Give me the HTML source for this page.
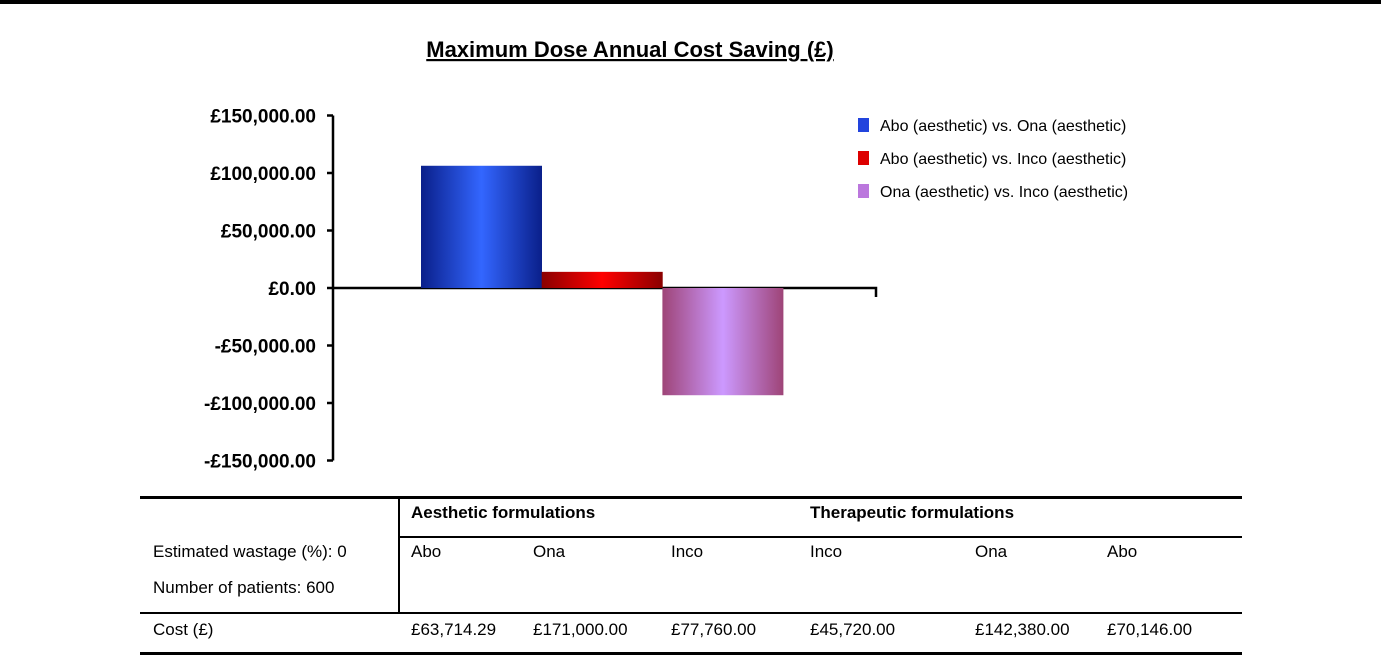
<!DOCTYPE html>
<html><head><meta charset="utf-8"><style>
body{margin:0;background:#fff;}
svg{display:block;font-family:"Liberation Sans",sans-serif;}
</style></head><body>
<svg id="chart" width="1381" height="657" viewBox="0 0 1381 657">
<defs>
<linearGradient id="gBlue" x1="0" x2="1"><stop offset="0" stop-color="#0a1f8a"/><stop offset="0.5" stop-color="#3366ff"/><stop offset="1" stop-color="#0a1f8a"/></linearGradient>
<linearGradient id="gRed" x1="0" x2="1"><stop offset="0" stop-color="#8a0000"/><stop offset="0.5" stop-color="#ff0000"/><stop offset="1" stop-color="#8a0000"/></linearGradient>
<linearGradient id="gPurple" x1="0" x2="1"><stop offset="0" stop-color="#9e4477"/><stop offset="0.5" stop-color="#cc99ff"/><stop offset="1" stop-color="#9e4477"/></linearGradient>
</defs>
<rect x="0" y="0" width="1381" height="4" fill="#000"/>
<text x="630" y="57" text-anchor="middle" font-size="22" font-weight="bold" text-decoration="underline">Maximum Dose Annual Cost Saving (£)</text>
<g id="axes"></g>
<g id="bars"></g>
<g id="legend"></g>
<g font-size="17" font-family="Liberation Sans, sans-serif">
<rect x="140" y="496" width="1102" height="3" fill="#000"/>
<rect x="398" y="497" width="2" height="116" fill="#000"/>
<rect x="399" y="536" width="843" height="2" fill="#000"/>
<rect x="140" y="612" width="1102" height="2" fill="#000"/>
<rect x="140" y="652" width="1102" height="3" fill="#000"/>
<text x="411" y="518" font-weight="bold">Aesthetic formulations</text>
<text x="810" y="518" font-weight="bold">Therapeutic formulations</text>
<text x="153" y="557">Estimated wastage (%): 0</text>
<text x="153" y="593">Number of patients: 600</text>
<text x="153" y="635">Cost (£)</text>
<text x="411" y="557">Abo</text><text x="533" y="557">Ona</text><text x="671" y="557">Inco</text>
<text x="810" y="557">Inco</text><text x="975" y="557">Ona</text><text x="1107" y="557">Abo</text>
<text x="411" y="635">£63,714.29</text><text x="533" y="635">£171,000.00</text><text x="671" y="635">£77,760.00</text>
<text x="810" y="635">£45,720.00</text><text x="975" y="635">£142,380.00</text><text x="1107" y="635">£70,146.00</text>
</g>
</svg>
<script>
const seriesNames = ["Abo (aesthetic) vs. Ona (aesthetic)", "Abo (aesthetic) vs. Inco (aesthetic)", "Ona (aesthetic) vs. Inco (aesthetic)"];
const seriesValues = [106286, 14046, -93240];
const tickValues = [150000, 100000, 50000, 0, -50000, -100000, -150000];
const tickLabels = ["£150,000.00", "£100,000.00", "£50,000.00", "£0.00", "-£50,000.00", "-£100,000.00", "-£150,000.00"];
const fills = ["url(#gBlue)", "url(#gRed)", "url(#gPurple)"];
const legendFills = ["#2244dd", "#dd0000", "#bb77dd"];
const NS = "http://www.w3.org/2000/svg";
const y = v => 288 - v * (172.5 / 150000);
const barX = i => 421 + i * 120.7;
function mk(tag, attrs, parent){const e=document.createElementNS(NS,tag);for(const k in attrs)e.setAttribute(k,attrs[k]);parent.appendChild(e);return e;}
const axes=document.getElementById('axes'), bars=document.getElementById('bars'), legend=document.getElementById('legend');
let a=mk('line',{x1:333,x2:333,y1:y(150000),y2:y(-150000),stroke:'#000','stroke-width':2.5},axes);


tickValues.forEach((v,i)=>{
  let t=mk('line',{x1:327,x2:333,y1:y(v),y2:y(v),stroke:'#000','stroke-width':2.5},axes);
  
  
  let l=mk('text',{x:316,y:y(v)+7,'text-anchor':'end','font-size':19,'font-weight':'bold'},axes);
  l.textContent=tickLabels[i];
  
  
});
seriesValues.forEach((v,i)=>{
  const top=Math.min(y(v),y(0)), h=Math.abs(y(v)-y(0));
  let r=mk('rect',{x:barX(i),y:top,width:121,height:h,fill:fills[i]},bars);
  
  
  let sq=mk('rect',{x:858,y:118+i*33,width:11,height:14,fill:legendFills[i]},legend);
  
  
  let lt=mk('text',{x:880,y:131+i*33,'font-size':16},legend);
  lt.textContent=seriesNames[i];
  
  
});
let xa=mk('polyline',{points:`333,${y(0)} 876,${y(0)} 876,${y(0)+9}`,fill:'none',stroke:'#000','stroke-width':2.5},axes);


</script>
</body></html>
